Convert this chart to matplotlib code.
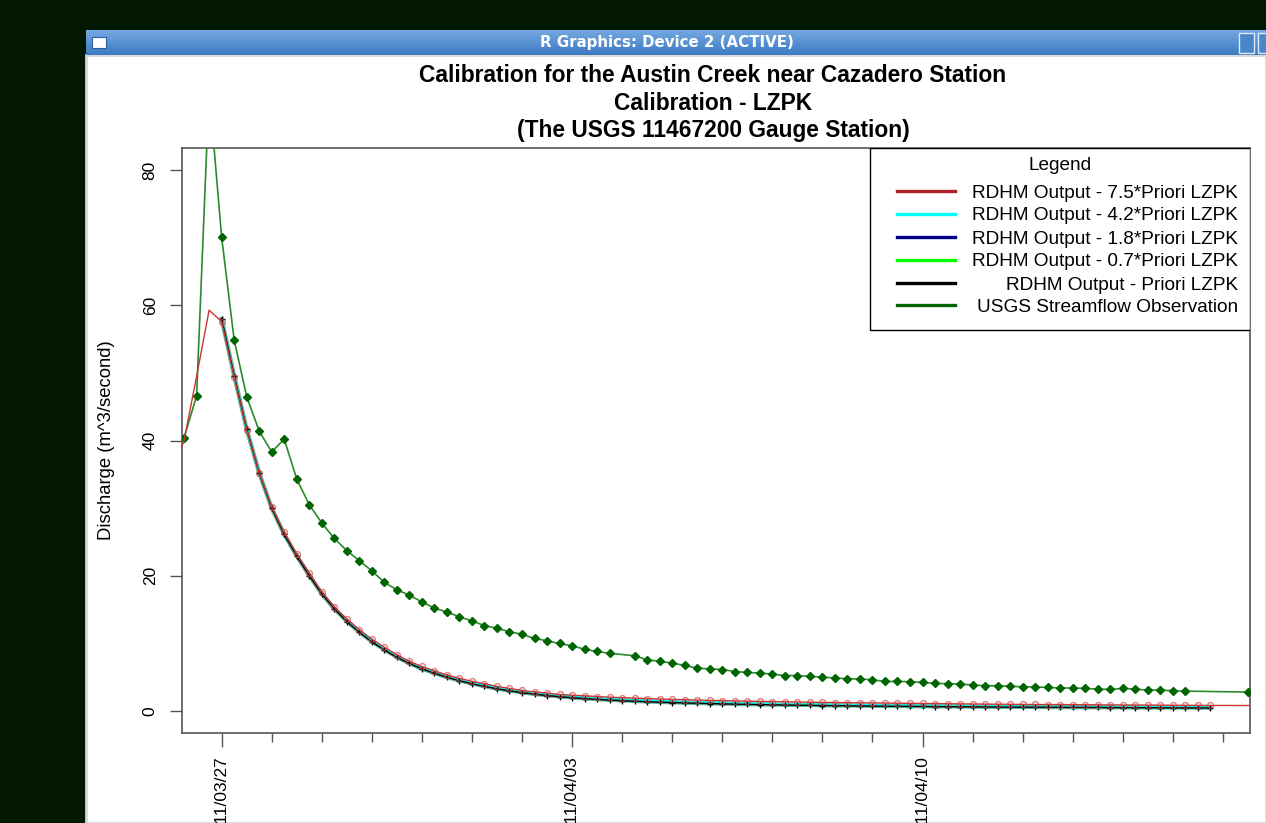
import numpy as np
import pandas as pd
import matplotlib
matplotlib.use("Agg")
import matplotlib.pyplot as plt
from matplotlib.patches import Rectangle
from matplotlib.lines import Line2D

plt.rcParams['font.family'] = ['Liberation Sans', 'DejaVu Sans']

# ---- data (discharge, m^3/s), 6-hourly from 2011-03-27 00:00 ----
model_times = pd.date_range('2011-03-27 00:00', periods=80, freq='6h')

q_75 = [57.6, 49.4, 41.6, 35.2, 30.2, 26.4, 23.2, 20.4, 17.6, 15.4, 13.6, 12.0, 10.6, 9.4,
        8.3, 7.3, 6.55, 5.9, 5.3, 4.8, 4.35, 4.0, 3.6, 3.3, 3.0, 2.77, 2.62, 2.4,
        2.3, 2.2, 2.1, 2.0, 1.93, 1.86, 1.8, 1.74, 1.68, 1.63, 1.58, 1.53, 1.49, 1.45,
        1.41, 1.38, 1.35, 1.32, 1.29, 1.26, 1.23, 1.21, 1.19, 1.17, 1.15, 1.13, 1.11, 1.09,
        1.07, 1.05, 1.03, 1.01, 0.99, 0.98, 0.96, 0.95, 0.93, 0.92, 0.91, 0.9, 0.89, 0.88,
        0.87, 0.86, 0.85, 0.84, 0.83, 0.82, 0.81, 0.8, 0.79, 0.78]
# 7.5*LZPK run is longer than the others
q_75_head = [35.0, 40.0, 49.5, 59.3]
q_75_tail = [0.78, 0.77, 0.77, 0.76]

q_42 = [57.8, 49.5, 41.6, 35.2, 30.1, 26.2, 23.0, 20.2, 17.4, 15.2, 13.4, 11.8, 10.4, 9.2,
        8.1, 7.15, 6.35, 5.7, 5.1, 4.6, 4.15, 3.78, 3.42, 3.12, 2.85, 2.62, 2.42, 2.25,
        2.1, 1.97, 1.85, 1.75, 1.66, 1.58, 1.5, 1.43, 1.37, 1.31, 1.26, 1.21, 1.17, 1.13,
        1.09, 1.05, 1.02, 0.99, 0.96, 0.93, 0.91, 0.88, 0.86, 0.84, 0.82, 0.8, 0.78, 0.77,
        0.75, 0.74, 0.72, 0.71, 0.7, 0.69, 0.67, 0.66, 0.65, 0.64, 0.63, 0.62, 0.62, 0.61,
        0.6, 0.59, 0.58, 0.58, 0.57, 0.56, 0.56, 0.55, 0.55, 0.54]

q_18 = [57.9, 49.5, 41.6, 35.2, 30.0, 26.1, 22.9, 20.1, 17.35, 15.15, 13.3, 11.7, 10.3, 9.1,
        8.0, 7.05, 6.25, 5.6, 5.0, 4.5, 4.06, 3.66, 3.32, 3.02, 2.75, 2.52, 2.32, 2.15,
        2.0, 1.87, 1.75, 1.65, 1.56, 1.48, 1.41, 1.34, 1.28, 1.23, 1.18, 1.13, 1.09, 1.05,
        1.01, 0.98, 0.95, 0.92, 0.89, 0.86, 0.84, 0.82, 0.8, 0.78, 0.76, 0.74, 0.72, 0.71,
        0.69, 0.68, 0.66, 0.65, 0.64, 0.63, 0.62, 0.61, 0.6, 0.59, 0.58, 0.57, 0.56, 0.55,
        0.55, 0.54, 0.53, 0.52, 0.52, 0.51, 0.5, 0.5, 0.49, 0.49]

q_07 = [58.0, 49.6, 41.7, 35.2, 30.0, 26.1, 22.9, 20.0, 17.3, 15.1, 13.25, 11.65, 10.25, 9.05,
        7.95, 7.02, 6.22, 5.57, 4.97, 4.47, 4.02, 3.62, 3.28, 2.98, 2.71, 2.48, 2.28, 2.11,
        1.96, 1.83, 1.71, 1.61, 1.52, 1.44, 1.37, 1.3, 1.24, 1.19, 1.14, 1.09, 1.05, 1.01,
        0.97, 0.94, 0.91, 0.88, 0.85, 0.83, 0.8, 0.78, 0.76, 0.74, 0.72, 0.7, 0.69, 0.67,
        0.66, 0.64, 0.63, 0.62, 0.61, 0.59, 0.58, 0.57, 0.56, 0.55, 0.54, 0.53, 0.52, 0.51,
        0.51, 0.5, 0.49, 0.48, 0.48, 0.47, 0.46, 0.46, 0.45, 0.45]

q_pri = [58.0, 49.6, 41.7, 35.2, 30.0, 26.1, 22.9, 20.0, 17.3, 15.1, 13.2, 11.6, 10.2, 9.0,
         7.9, 7.0, 6.2, 5.55, 4.95, 4.45, 4.0, 3.6, 3.25, 2.95, 2.68, 2.45, 2.25, 2.08,
         1.93, 1.8, 1.68, 1.58, 1.49, 1.41, 1.34, 1.27, 1.21, 1.16, 1.11, 1.06, 1.02, 0.98,
         0.94, 0.91, 0.88, 0.85, 0.82, 0.8, 0.77, 0.75, 0.73, 0.71, 0.69, 0.67, 0.66, 0.64,
         0.63, 0.61, 0.6, 0.59, 0.58, 0.56, 0.55, 0.54, 0.53, 0.52, 0.51, 0.5, 0.49, 0.48,
         0.48, 0.47, 0.46, 0.45, 0.45, 0.44, 0.43, 0.43, 0.42, 0.42]

obs_q = [40.4, 46.6, 92.0,
         70.1, 54.9, 46.5, 41.4, 38.3, 40.2, 34.3, 30.5, 27.8, 25.5,
         23.7, 22.2, 20.7, 19.0, 17.9, 17.1, 16.1, 15.2, 14.6, 13.9,
         13.3, 12.6, 12.2, 11.7, 11.3, 10.7, 10.35, 9.95, 9.6, 9.1,
         8.77, 8.5, 8.13, 7.54, 7.3, 7.05, 6.7, 6.3, 6.2,
         6.1, 5.8, 5.66, 5.57, 5.42, 5.2, 5.2, 5.07, 4.98, 4.83,
         4.73, 4.69, 4.58, 4.33, 4.33, 4.29, 4.19, 4.04, 4.0, 3.95,
         3.8, 3.7, 3.7, 3.6, 3.55, 3.5, 3.45, 3.36, 3.36, 3.3,
         3.2, 3.15, 3.3, 3.2, 3.05, 3.05, 2.96, 2.9,
         2.76]
obs_times = pd.date_range('2011-03-26 06:00', '2011-04-15 06:00', freq='6h')
obs_times = obs_times.drop(pd.Timestamp('2011-04-04 00:00'))
obs_times = obs_times.append(pd.DatetimeIndex([pd.Timestamp('2011-04-16 12:00')]))

red_times = pd.date_range('2011-03-26 00:00', periods=88, freq='6h')
red_q = q_75_head + q_75 + q_75_tail

legend_labels = ['RDHM Output - 7.5*Priori LZPK', 'RDHM Output - 4.2*Priori LZPK',
                 'RDHM Output - 1.8*Priori LZPK', 'RDHM Output - 0.7*Priori LZPK',
                 'RDHM Output - Priori LZPK', 'USGS Streamflow Observation']
legend_colors = ['#b22222', '#00ffff', '#00008b', '#00ff00', '#000000', '#006400']

major_days = pd.to_datetime(['2011-03-27', '2011-04-03', '2011-04-10'])
minor_days = pd.date_range('2011-03-27', '2011-04-16', freq='D')

# ---- figure: screenshot of an R graphics window ----
W, H = 1266, 823
fig = plt.figure(figsize=(W / 100, H / 100), dpi=100)
fig.patch.set_facecolor('#021802')

# window body (behind everything)
body = Rectangle((86 / W, 0), (W - 86) / W, (H - 55) / H,
                 transform=fig.transFigure, fc='white', ec='#d8d8d8', lw=2, zorder=-5)
fig.add_artist(body)

# title bar with gradient
tb = fig.add_axes([86 / W, 1 - 55 / H, (W - 86) / W, 25 / H])
grad = np.linspace(0, 1, 50).reshape(-1, 1)
tb.imshow(grad, aspect='auto', cmap=matplotlib.colors.LinearSegmentedColormap.from_list(
    'tb', ['#74a8e0', '#3d7ac3']), extent=[0, 1, 0, 1], origin='upper')
tb.set_axis_off()
tb.add_patch(Rectangle((0.005, 0.3), 0.012, 0.42, fc='white', ec='#2c5f9e', lw=0.8))
tb.add_patch(Rectangle((0.9775, 0.1), 0.0125, 0.8, fc='#4a86c8', ec='#dfeaf8', lw=1))
tb.add_patch(Rectangle((0.9935, 0.1), 0.0125, 0.8, fc='#4a86c8', ec='#dfeaf8', lw=1))
tb.text(0.492, 0.5, 'R Graphics: Device 2 (ACTIVE)', color='white', fontsize=10.8,
        fontweight='bold', family='DejaVu Sans', ha='center', va='center')

# plot region
ax = fig.add_axes([182 / W, 1 - 733 / H, (1250 - 182) / W, (733 - 148) / H])

ax.plot(obs_times, obs_q, color='#2b8a2b', lw=1.2, marker='D', ms=4.3,
        mfc='#006400', mec='#006400', zorder=3)
ax.plot(model_times, q_07, color='#2e8b57', lw=3, alpha=0.7, zorder=4)
ax.plot(model_times, q_18, color='#00008b', lw=1.0, zorder=5)
ax.plot(model_times, q_42, color='#00ffff', lw=1.6, marker='^', ms=2.5, zorder=6)
ax.plot(model_times, q_pri, color='black', lw=1.0, marker='+', ms=4, mew=1, zorder=7)
ax.plot(red_times, red_q, color='#cc3333', lw=1.0, zorder=8)
ax.plot(red_times[4:84], red_q[4:84], ls='none', marker='o', ms=4.2, mfc='none',
        mec='#d04848', mew=1.0, alpha=0.7, zorder=8)

ax.set_xlim(pd.Timestamp('2011-03-27 00:00') - pd.Timedelta(hours=19),
            pd.Timestamp('2011-04-15 18:00') + pd.Timedelta(hours=19))
ax.set_ylim(-3.3, 83.3)

ax.set_yticks([0, 20, 40, 60, 80])
ax.set_yticklabels(['0', '20', '40', '60', '80'], rotation=90, va='center', fontsize=12.5)
ax.tick_params(axis='y', length=8.5, width=1, color='#555555', pad=9)

ax.set_xticks(major_days)
ax.set_xticklabels([d.strftime('%Y/%m/%d') for d in major_days], rotation=90,
                   fontsize=12.5)
ax.set_xticks(minor_days, minor=True)
ax.tick_params(axis='x', which='major', length=10, width=1, color='#555555', pad=7)
ax.tick_params(axis='x', which='minor', length=6.5, width=1, color='#555555')

for s in ax.spines.values():
    s.set_color('#555555')
    s.set_linewidth(1.2)

ax.set_ylabel('Discharge (m^3/second)', fontsize=13.3, labelpad=20)

for txt, ty in [('Calibration for the Austin Creek near Cazadero Station', 76),
                ('Calibration - LZPK', 104),
                ('(The USGS 11467200 Gauge Station)', 131)]:
    fig.text(713 / W, 1 - ty / H, txt, ha='center', va='center',
             fontsize=16.4, fontweight='bold')

# legend box drawn like R's legend(): right-justified text
def fx(px):
    return (px - 182) / (1250 - 182)

def fy(py):
    return (733 - py) / (733 - 148)

ax.add_patch(Rectangle((fx(870), fy(330)), fx(1250) - fx(870), fy(148) - fy(330),
                       transform=ax.transAxes, fc='white', ec='black', lw=1, zorder=10))
ax.text(fx(1060), fy(165), 'Legend', transform=ax.transAxes, ha='center', va='center',
        fontsize=13.7, zorder=11)
rows = [191, 214, 237, 260, 283, 305]
for lab, col, ry in zip(legend_labels, legend_colors, rows):
    ax.add_line(Line2D([fx(897), fx(955)], [fy(ry), fy(ry)], transform=ax.transAxes,
                       color=col, lw=2.4, zorder=11))
    ax.text(fx(1238), fy(ry + 2), lab, transform=ax.transAxes, ha='right', va='center',
            fontsize=13.7, zorder=11)

fig.savefig('out.png', dpi=100, facecolor=fig.get_facecolor())
